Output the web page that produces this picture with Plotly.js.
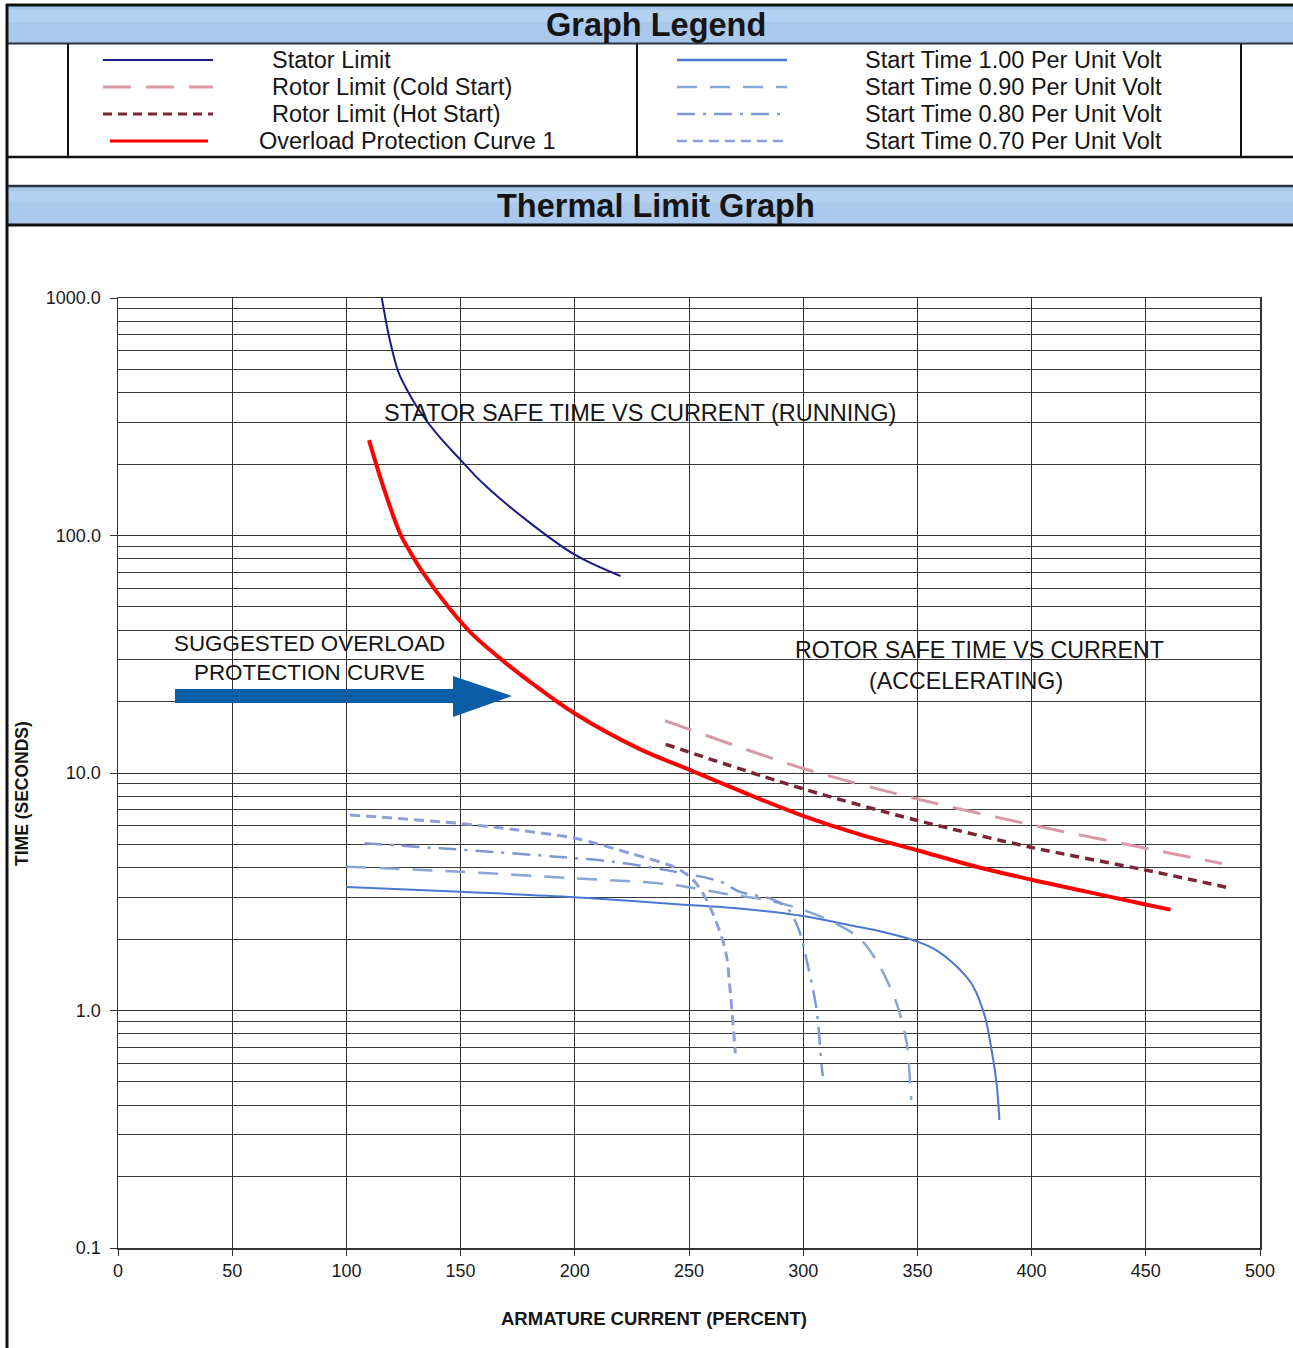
<!DOCTYPE html>
<html><head><meta charset="utf-8">
<script src="https://cdn.plot.ly/plotly-3.0.1.min.js"></script>
<style>html,body{margin:0;padding:0;background:#fff;} #chart{width:1293px;height:1348px;}</style>
</head><body><div id="chart"></div>
<script>
// ---------- tick values / labels ----------
const xTickVals = [0, 50, 100, 150, 200, 250, 300, 350, 400, 450, 500];
const yTickVals = [0.1, 1, 10, 100, 1000];
const yTickText = ['0.1', '1.0', '10.0', '100.0', '1000.0'];
const yMinorVals = [0.2,0.3,0.4,0.5,0.6,0.7,0.8,0.9, 2,3,4,5,6,7,8,9, 20,30,40,50,60,70,80,90, 200,300,400,500,600,700,800,900];

// ---------- series (armature current %, time s) ----------
const statorX = [115.5, 119, 122.7, 126, 132, 140, 150, 160, 176, 200, 220];
const statorY = [1000, 665, 490, 420, 335, 265, 208, 165, 122, 83, 67.5];

const rotorColdX = [239.5, 300, 350, 400, 450, 483.4];
const rotorColdY = [16.6, 10.45, 7.77, 6.05, 4.82, 4.16];

const rotorHotX = [239.8, 300, 350, 400, 450, 486.8];
const rotorHotY = [13.2, 8.57, 6.31, 4.86, 3.9, 3.28];

const overloadX = [109.9, 116.2, 123.5, 128, 133, 145, 155, 165.8, 180.4, 200, 228.5, 249.3, 275, 299.6, 325, 349.9, 375, 400.1, 425, 450.4, 460.8];
const overloadY = [252, 160, 102, 85, 71, 49.5, 38.5, 31.2, 24.2, 17.8, 12.6, 10.4, 8.2, 6.62, 5.5, 4.73, 4.05, 3.55, 3.15, 2.79, 2.66];

const start100X = [100, 150, 200, 250, 272, 300, 320, 335, 350, 358, 365.7, 370.5, 374.5, 379.6, 382.5, 384.7, 385.9];
const start100Y = [3.31, 3.16, 3.0, 2.78, 2.69, 2.5, 2.29, 2.14, 1.95, 1.8, 1.58, 1.42, 1.26, 0.94, 0.68, 0.49, 0.346];

const start090X = [100, 150, 200, 237, 250, 265, 285.5, 300, 312, 325, 333.6, 340.9, 345.3, 347, 347.3];
const start090Y = [4.03, 3.84, 3.6, 3.43, 3.3, 3.11, 2.9, 2.65, 2.38, 2.0, 1.53, 1.07, 0.73, 0.46, 0.42];

const start080X = [108, 141, 166, 192, 217, 240, 263.6, 272.3, 286, 293, 298, 302, 305.9, 308.1, 308.6];
const start080Y = [5.06, 4.82, 4.64, 4.44, 4.23, 3.9, 3.49, 3.16, 2.95, 2.7, 2.2, 1.55, 1.0, 0.58, 0.53];

const start070X = [101.6, 149.7, 175, 200, 224.2, 244.6, 251.9, 257.7, 264.3, 266.5, 268, 270.1, 270.3];
const start070Y = [6.66, 6.13, 5.75, 5.31, 4.59, 3.97, 3.54, 2.92, 2.04, 1.68, 1.22, 0.70, 0.66];

const seriesNames = ['Stator Limit', 'Rotor Limit (Cold Start)', 'Rotor Limit (Hot Start)', 'Overload Protection Curve 1',
  'Start Time 1.00 Per Unit Volt', 'Start Time 0.90 Per Unit Volt', 'Start Time 0.80 Per Unit Volt', 'Start Time 0.70 Per Unit Volt'];

// ---------- styles ----------
const FONT = 'Liberation Sans, Arial, Helvetica, sans-serif';
const styles = [
  {color: '#1c1c86', width: 2, dash: 'solid', smooth: 1.0},
  {color: '#d89aa6', width: 3, dash: '28px,15px', smooth: 0.8},
  {color: '#7a2434', width: 3.5, dash: '9px,6px', smooth: 0.8},
  {color: '#ff0000', width: 4, dash: 'solid', smooth: 1.0},
  {color: '#4a78d2', width: 2, dash: 'solid', smooth: 0.9},
  {color: '#8aa6d6', width: 2.5, dash: '20px,13px', smooth: 0.9},
  {color: '#7e98d4', width: 2.5, dash: '18px,8px,3px,8px', smooth: 0.9},
  {color: '#909fd8', width: 3, dash: '10px,6px', smooth: 0.9}
];
const xs = [statorX, rotorColdX, rotorHotX, overloadX, start100X, start090X, start080X, start070X];
const ys = [statorY, rotorColdY, rotorHotY, overloadY, start100Y, start090Y, start080Y, start070Y];

const traces = xs.map((x, i) => ({
  type: 'scatter', mode: 'lines', x: x, y: ys[i], name: seriesNames[i], showlegend: false,
  line: {color: styles[i].color, width: styles[i].width, dash: styles[i].dash, shape: 'spline', smoothing: styles[i].smooth},
  hoverinfo: 'x+y+name'
}));

// ---------- page geometry helpers (pixel -> paper) ----------
const L = 118, R = 33, T = 298, B = 100, W = 1293, H = 1348;
const PW = W - L - R, PH = H - T - B;
const px = v => (v - L) / PW;
const py = v => (H - B - v) / PH;

const shapes = [];
const hline = (x0, x1, y, w, c) => shapes.push({type: 'line', xref: 'paper', yref: 'paper', x0: px(x0), x1: px(x1), y0: py(y), y1: py(y), line: {color: c, width: w}});
const vline = (x, y0, y1, w, c) => shapes.push({type: 'line', xref: 'paper', yref: 'paper', x0: px(x), x1: px(x), y0: py(y0), y1: py(y1), line: {color: c, width: w}});
const rect = (x0, y0, x1, y1, fill) => shapes.push({type: 'rect', xref: 'paper', yref: 'paper', x0: px(x0), x1: px(x1), y0: py(y0), y1: py(y1), fillcolor: fill, line: {width: 0}, layer: 'below'});

// bands
rect(8, 6, W, 43, '#a9c8ec');
rect(8, 10, W, 22, '#b4d0f0');
rect(8, 187, W, 224, '#a9c8ec');
rect(8, 191, W, 203, '#b4d0f0');
// frame lines
hline(6, W, 5, 3, '#111');
vline(7, 4, H, 3, '#111');
hline(8, W, 43.5, 2, '#2b3445');
hline(8, W, 157, 2.5, '#111');
hline(8, W, 186, 2.5, '#2b3445');
hline(8, W, 225, 3, '#111');
vline(68, 44, 157, 2, '#111');
vline(637, 44, 157, 2, '#111');
vline(1241, 44, 157, 2, '#111');

// legend samples
const legRows = [60, 87, 114, 141];
const legSampleLeft = [[103, 213], [103, 213], [103, 213], [110, 208]];
for (let i = 0; i < 4; i++) {
  shapes.push({type: 'line', xref: 'paper', yref: 'paper', x0: px(legSampleLeft[i][0]), x1: px(legSampleLeft[i][1]), y0: py(legRows[i]), y1: py(legRows[i]),
    line: {color: styles[i].color, width: Math.min(styles[i].width, 3), dash: styles[i].dash}});
  shapes.push({type: 'line', xref: 'paper', yref: 'paper', x0: px(677), x1: px(787), y0: py(legRows[i]), y1: py(legRows[i]),
    line: {color: styles[i + 4].color, width: 2.5, dash: styles[i + 4].dash}});
}

// arrow (filled polygon)
const ax = [175, 453, 453, 512, 453, 453, 175];
const ay = [689, 689, 676, 696, 717, 703, 703];
let path = '';
ax.forEach((v, i) => { path += (i === 0 ? 'M' : 'L') + px(v).toFixed(5) + ',' + py(ay[i]).toFixed(5); });
path += 'Z';
shapes.push({type: 'path', xref: 'paper', yref: 'paper', path: path, fillcolor: '#0b5ea6', line: {width: 0}});

const annotations = [];
const ann = (text, x, y, size, anchor, bold, angle) => annotations.push({
  text: bold ? '<b>' + text + '</b>' : text, xref: 'paper', yref: 'paper', x: px(x), y: py(y),
  xanchor: anchor, yanchor: 'middle', showarrow: false, textangle: angle || 0,
  font: {family: FONT, size: size, color: '#151515'}
});
ann('Graph Legend', 656, 25, 32.5, 'center', true);
ann('Thermal Limit Graph', 656, 206, 32.5, 'center', true);
const legTextX = [270, 270, 270, 257];
for (let i = 0; i < 4; i++) {
  ann(seriesNames[i], legTextX[i], legRows[i], 23.5, 'left', false);
  ann(seriesNames[i + 4], 863, legRows[i], 23.5, 'left', false);
}
ann('STATOR SAFE TIME VS CURRENT (RUNNING)', 640, 413, 23.5, 'center', false);
ann('ROTOR SAFE TIME VS CURRENT', 979, 650, 23.2, 'center', false);
ann('(ACCELERATING)', 966, 681, 23.2, 'center', false);
ann('SUGGESTED OVERLOAD', 309, 643, 22.4, 'center', false);
ann('PROTECTION CURVE', 309, 672, 22.4, 'center', false);
// axis titles placed as in the reference
ann('ARMATURE CURRENT (PERCENT)', 654, 1318, 18.5, 'center', true);
ann('TIME (SECONDS)', 22, 794, 17.5, 'center', true, -90);

const layout = {
  width: W, height: H,
  margin: {l: L, r: R, t: T, b: B},
  paper_bgcolor: '#ffffff', plot_bgcolor: '#ffffff',
  font: {family: FONT, color: '#1a1a1a'},
  showlegend: false,
  xaxis: {
    range: [0, 500], tickvals: xTickVals, ticktext: xTickVals.map(String),
    showgrid: true, gridcolor: '#333', gridwidth: 1, zeroline: false,
    showline: true, mirror: true, linecolor: '#333', linewidth: 1.5,
    ticks: 'outside', ticklen: 6, tickcolor: '#333', tickfont: {size: 18, family: FONT, color: '#1a1a1a'},
    automargin: false, fixedrange: true
  },
  yaxis: {
    type: 'log', range: [-1, 3], tickvals: yTickVals, ticktext: yTickText,
    showgrid: true, gridcolor: '#333', gridwidth: 1, zeroline: false,
    minor: {tickmode: 'array', tickvals: yMinorVals, showgrid: true, gridcolor: '#3a3a3a', gridwidth: 1, ticks: ''},
    showline: true, mirror: true, linecolor: '#333', linewidth: 1.5,
    ticks: 'outside', ticklen: 7, tickcolor: '#333', ticklabelstandoff: 5,
    tickfont: {size: 18, family: FONT, color: '#1a1a1a'},
    automargin: false, fixedrange: true
  },
  shapes: shapes,
  annotations: annotations
};

Plotly.newPlot('chart', traces, layout, {displayModeBar: false, staticPlot: true});
</script>
</body></html>
